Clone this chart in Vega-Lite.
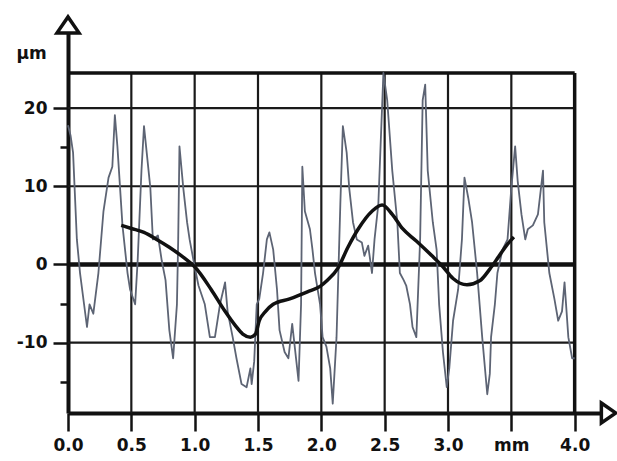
{
  "$schema": "https://vega.github.io/schema/vega-lite/v6.json",
  "autosize": "none",
  "padding": {"left": 68, "top": 33, "right": 17, "bottom": 48},
  "width": 532,
  "height": 380,
  "background": "white",
  "config": {"view": {"stroke": null}},
  "datasets": {
    "profile": [
      {"x": 0.0, "y": 17.8}, {"x": 0.02, "y": 16.5}, {"x": 0.04, "y": 14.3}, {"x": 0.07, "y": 3.2}, {"x": 0.095, "y": -1.1},
      {"x": 0.15, "y": -8.0}, {"x": 0.17, "y": -5.1}, {"x": 0.2, "y": -6.3}, {"x": 0.24, "y": -1.1}, {"x": 0.28, "y": 6.8},
      {"x": 0.32, "y": 11.1}, {"x": 0.35, "y": 12.5}, {"x": 0.37, "y": 19.1}, {"x": 0.39, "y": 15.1}, {"x": 0.43, "y": 5.0},
      {"x": 0.47, "y": -1.1}, {"x": 0.49, "y": -3.2}, {"x": 0.53, "y": -5.1}, {"x": 0.55, "y": 0.5}, {"x": 0.58, "y": 12.0},
      {"x": 0.6, "y": 17.7}, {"x": 0.65, "y": 9.8}, {"x": 0.67, "y": 3.2}, {"x": 0.71, "y": 3.7}, {"x": 0.74, "y": 0.5},
      {"x": 0.77, "y": -2.0}, {"x": 0.8, "y": -8.4}, {"x": 0.83, "y": -12.0}, {"x": 0.86, "y": -5.1}, {"x": 0.87, "y": 3.2},
      {"x": 0.88, "y": 15.1}, {"x": 0.91, "y": 9.8}, {"x": 0.94, "y": 5.4}, {"x": 0.96, "y": 3.2}, {"x": 1.0, "y": -0.3},
      {"x": 1.03, "y": -2.7}, {"x": 1.08, "y": -5.1}, {"x": 1.12, "y": -9.3}, {"x": 1.16, "y": -9.3}, {"x": 1.2, "y": -5.1},
      {"x": 1.24, "y": -2.3}, {"x": 1.26, "y": -6.0}, {"x": 1.3, "y": -9.3}, {"x": 1.33, "y": -12.0}, {"x": 1.37, "y": -15.3},
      {"x": 1.41, "y": -15.7}, {"x": 1.44, "y": -13.3}, {"x": 1.45, "y": -15.3}, {"x": 1.47, "y": -12.4}, {"x": 1.49, "y": -5.1},
      {"x": 1.51, "y": -4.4}, {"x": 1.54, "y": -1.1}, {"x": 1.57, "y": 3.2}, {"x": 1.59, "y": 4.1}, {"x": 1.62, "y": 1.9},
      {"x": 1.65, "y": -3.2}, {"x": 1.67, "y": -8.4}, {"x": 1.71, "y": -11.2}, {"x": 1.74, "y": -12.0}, {"x": 1.77, "y": -7.6},
      {"x": 1.79, "y": -10.5}, {"x": 1.82, "y": -14.9}, {"x": 1.84, "y": -5.1}, {"x": 1.85, "y": 12.5}, {"x": 1.87, "y": 6.8},
      {"x": 1.91, "y": 4.5}, {"x": 1.93, "y": 1.9}, {"x": 1.95, "y": -1.1}, {"x": 1.99, "y": -5.1}, {"x": 2.01, "y": -9.3},
      {"x": 2.04, "y": -10.5}, {"x": 2.07, "y": -13.3}, {"x": 2.09, "y": -17.8}, {"x": 2.12, "y": -9.3}, {"x": 2.15, "y": 7.7},
      {"x": 2.17, "y": 17.7}, {"x": 2.2, "y": 14.3}, {"x": 2.22, "y": 9.8}, {"x": 2.25, "y": 5.4}, {"x": 2.28, "y": 3.2},
      {"x": 2.32, "y": 2.8}, {"x": 2.34, "y": 1.1}, {"x": 2.37, "y": 2.4}, {"x": 2.4, "y": -1.1}, {"x": 2.42, "y": 3.2},
      {"x": 2.45, "y": 7.7}, {"x": 2.49, "y": 24.5}, {"x": 2.52, "y": 21.0}, {"x": 2.56, "y": 12.0}, {"x": 2.6, "y": 5.4},
      {"x": 2.62, "y": -1.1}, {"x": 2.65, "y": -2.0}, {"x": 2.67, "y": -2.7}, {"x": 2.7, "y": -5.1}, {"x": 2.72, "y": -8.0},
      {"x": 2.75, "y": -9.3}, {"x": 2.78, "y": 3.2}, {"x": 2.8, "y": 21.0}, {"x": 2.82, "y": 23.0}, {"x": 2.84, "y": 12.0},
      {"x": 2.88, "y": 5.4}, {"x": 2.91, "y": 1.9}, {"x": 2.93, "y": -5.1}, {"x": 2.96, "y": -11.2}, {"x": 2.99, "y": -15.7},
      {"x": 3.01, "y": -13.3}, {"x": 3.04, "y": -7.2}, {"x": 3.08, "y": -3.2}, {"x": 3.11, "y": 3.2}, {"x": 3.13, "y": 11.1},
      {"x": 3.16, "y": 8.5}, {"x": 3.19, "y": 5.4}, {"x": 3.23, "y": -1.1}, {"x": 3.27, "y": -9.3}, {"x": 3.31, "y": -16.6},
      {"x": 3.33, "y": -14.0}, {"x": 3.34, "y": -9.3}, {"x": 3.37, "y": -5.1}, {"x": 3.39, "y": -1.1}, {"x": 3.43, "y": 1.9},
      {"x": 3.47, "y": 3.2}, {"x": 3.5, "y": 9.8}, {"x": 3.53, "y": 15.1}, {"x": 3.55, "y": 10.7}, {"x": 3.58, "y": 6.4},
      {"x": 3.61, "y": 3.2}, {"x": 3.63, "y": 4.5}, {"x": 3.67, "y": 5.0}, {"x": 3.71, "y": 6.4}, {"x": 3.75, "y": 12.0},
      {"x": 3.76, "y": 5.4}, {"x": 3.8, "y": -1.1}, {"x": 3.84, "y": -4.4}, {"x": 3.87, "y": -7.2}, {"x": 3.9, "y": -6.0},
      {"x": 3.92, "y": -2.3}, {"x": 3.95, "y": -9.3}, {"x": 3.98, "y": -12.0}, {"x": 4.0, "y": -12.0}
    ],
    "mean": [
      {"x": 0.42, "y": 5.0}, {"x": 0.5, "y": 4.6}, {"x": 0.6, "y": 4.1}, {"x": 0.7, "y": 3.2}, {"x": 0.8, "y": 2.2},
      {"x": 0.92, "y": 0.8}, {"x": 1.0, "y": -0.3}, {"x": 1.13, "y": -3.2}, {"x": 1.24, "y": -6.0}, {"x": 1.32, "y": -7.8},
      {"x": 1.38, "y": -8.9}, {"x": 1.44, "y": -9.3}, {"x": 1.48, "y": -8.9}, {"x": 1.51, "y": -7.2}, {"x": 1.56, "y": -6.0},
      {"x": 1.62, "y": -5.1}, {"x": 1.75, "y": -4.4}, {"x": 1.89, "y": -3.5}, {"x": 1.99, "y": -2.8}, {"x": 2.05, "y": -2.0},
      {"x": 2.13, "y": -0.5}, {"x": 2.21, "y": 2.2}, {"x": 2.29, "y": 4.5}, {"x": 2.4, "y": 6.8}, {"x": 2.48, "y": 7.6},
      {"x": 2.56, "y": 6.4}, {"x": 2.64, "y": 4.6}, {"x": 2.75, "y": 3.0}, {"x": 2.88, "y": 1.0}, {"x": 2.96, "y": -0.3},
      {"x": 3.04, "y": -1.8}, {"x": 3.15, "y": -2.6}, {"x": 3.25, "y": -2.1}, {"x": 3.33, "y": -0.6}, {"x": 3.4, "y": 1.0},
      {"x": 3.47, "y": 2.6}, {"x": 3.52, "y": 3.5}
    ],
    "vgrid": [{"x": 0.5}, {"x": 1.0}, {"x": 1.5}, {"x": 2.0}, {"x": 2.5}, {"x": 3.0}, {"x": 3.5}],
    "hgrid": [{"y": 20}, {"y": 10}, {"y": -10}],
    "one": [{}]
  },
  "layer": [
    {
      "data": {"name": "vgrid"},
      "mark": {"type": "rule", "color": "#1a1a1a", "strokeWidth": 2.2},
      "encoding": {
        "x": {"field": "x", "type": "quantitative", "scale": {"domain": [0, 4.2], "nice": false, "zero": false}},
        "y": {"datum": -19, "scale": {"domain": [-19, 29.6], "nice": false, "zero": false}},
        "y2": {"datum": 24.5}
      }
    },
    {
      "data": {"name": "hgrid"},
      "mark": {"type": "rule", "color": "#1a1a1a", "strokeWidth": 2.2},
      "encoding": {
        "y": {"field": "y", "type": "quantitative", "scale": {"domain": [-19, 29.6], "nice": false, "zero": false}},
        "x": {"datum": 0, "scale": {"domain": [0, 4.2], "nice": false, "zero": false}},
        "x2": {"datum": 4}
      }
    },
    {
      "data": {"name": "one"},
      "mark": {"type": "rule", "color": "#111", "strokeWidth": 4.5},
      "encoding": {
        "y": {"datum": 0, "scale": {"domain": [-19, 29.6], "nice": false, "zero": false}},
        "x": {"datum": 0, "scale": {"domain": [0, 4.2], "nice": false, "zero": false}},
        "x2": {"datum": 4}
      }
    },
    {
      "data": {"name": "one"},
      "mark": {"type": "rule", "color": "#111", "strokeWidth": 3.5},
      "encoding": {
        "y": {"datum": 24.5, "scale": {"domain": [-19, 29.6], "nice": false, "zero": false}},
        "x": {"datum": 0, "scale": {"domain": [0, 4.2], "nice": false, "zero": false}},
        "x2": {"datum": 4}
      }
    },
    {
      "data": {"name": "one"},
      "mark": {"type": "rule", "color": "#111", "strokeWidth": 3.5},
      "encoding": {
        "x": {"datum": 4, "scale": {"domain": [0, 4.2], "nice": false, "zero": false}},
        "y": {"datum": -19, "scale": {"domain": [-19, 29.6], "nice": false, "zero": false}},
        "y2": {"datum": 24.5}
      }
    },
    {
      "data": {"name": "profile"},
      "mark": {"type": "line", "color": "#5d6474", "strokeWidth": 1.8, "strokeJoin": "round"},
      "encoding": {
        "x": {
          "field": "x", "type": "quantitative",
          "scale": {"domain": [0, 4.2], "nice": false, "zero": false},
          "axis": {
            "values": [0, 0.25, 0.5, 0.75, 1, 1.25, 1.5, 1.75, 2, 2.25, 2.5, 2.75, 3, 3.25, 3.5, 3.75, 4],
            "labelExpr": "round(datum.value * 2) != datum.value * 2 ? '' : (datum.value == 3.5 ? 'mm' : format(datum.value, '.1f'))",
            "title": null,
            "grid": false,
            "domainColor": "#111",
            "domainWidth": 4,
            "tickColor": "#111",
            "tickWidth": 2.5,
            "tickSize": {"condition": {"test": "round(datum.value * 2) != datum.value * 2", "value": 8}, "value": 18},
            "labelFont": "DejaVu Sans",
            "labelFontWeight": "bold",
            "labelFontSize": 17,
            "labelColor": "#111",
            "labelPadding": 6,
            "labelOverlap": false,
            "labelFlush": false
          }
        },
        "y": {
          "field": "y", "type": "quantitative",
          "scale": {"domain": [-19, 29.6], "nice": false, "zero": false},
          "axis": {
            "values": [-15, -10, -5, 0, 10, 15, 20],
            "labelExpr": "datum.value % 10 == 0 ? '' + datum.value : ''",
            "title": "µm",
            "titleAngle": 0,
            "titleX": -37,
            "titleY": 20,
            "titleAlign": "center",
            "titleBaseline": "middle",
            "titleFont": "DejaVu Sans",
            "titleFontWeight": "bold",
            "titleFontSize": 17,
            "titleColor": "#111",
            "grid": false,
            "domainColor": "#111",
            "domainWidth": 4,
            "tickColor": "#111",
            "tickWidth": 2.5,
            "tickSize": {"condition": {"test": "datum.value % 10 != 0", "value": 8}, "value": 15},
            "labelFont": "DejaVu Sans",
            "labelFontWeight": "bold",
            "labelFontSize": 17,
            "labelColor": "#111",
            "labelPadding": 6,
            "labelOverlap": false,
            "labelFlush": false
          }
        }
      }
    },
    {
      "data": {"name": "mean"},
      "mark": {"type": "line", "color": "#111", "strokeWidth": 3.5, "interpolate": "monotone"},
      "encoding": {
        "x": {"field": "x", "type": "quantitative", "scale": {"domain": [0, 4.2], "nice": false, "zero": false}},
        "y": {"field": "y", "type": "quantitative", "scale": {"domain": [-19, 29.6], "nice": false, "zero": false}}
      }
    },
    {
      "data": {"name": "one"},
      "mark": {"type": "point", "shape": "M-1,0.7L0,-0.75L1,0.7Z", "size": 484, "filled": true, "fill": "white", "stroke": "#111", "strokeWidth": 3.5, "opacity": 1, "clip": false},
      "encoding": {
        "x": {"datum": 0, "scale": {"domain": [0, 4.2], "nice": false, "zero": false}},
        "y": {"datum": 30.6, "scale": {"domain": [-19, 29.6], "nice": false, "zero": false}}
      }
    },
    {
      "data": {"name": "one"},
      "mark": {"type": "point", "shape": "M-0.75,-1L0.7,0L-0.75,1Z", "size": 400, "filled": true, "fill": "white", "stroke": "#111", "strokeWidth": 3.5, "opacity": 1, "clip": false},
      "encoding": {
        "x": {"datum": 4.27, "scale": {"domain": [0, 4.2], "nice": false, "zero": false}},
        "y": {"datum": -19, "scale": {"domain": [-19, 29.6], "nice": false, "zero": false}}
      }
    }
  ]
}
